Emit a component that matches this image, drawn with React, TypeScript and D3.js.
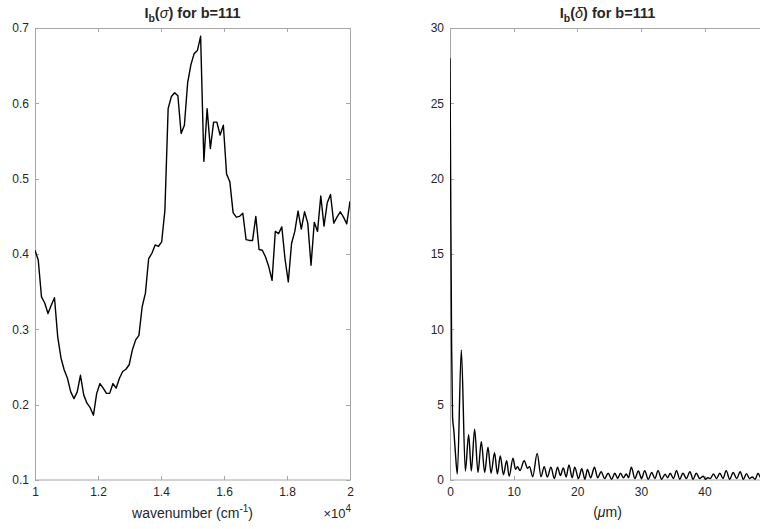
import React, { useRef, useEffect } from 'react';
import * as d3 from 'd3';

// spectrum I_b(sigma), evenly sampled from 1e4 to 2e4 cm^-1
const sigmaStart = 10000;
const sigmaEnd = 20000;
const sigmaIntensity = [
  0.405, 0.392, 0.343, 0.335, 0.321, 0.332, 0.342, 0.29, 0.262, 0.246,
  0.235, 0.217, 0.208, 0.217, 0.239, 0.213, 0.202, 0.196, 0.186, 0.215,
  0.228, 0.222, 0.215, 0.215, 0.228, 0.222, 0.235, 0.244, 0.247, 0.253,
  0.273, 0.286, 0.292, 0.33, 0.348, 0.394, 0.401, 0.412, 0.41, 0.416,
  0.458, 0.593, 0.609, 0.614, 0.61, 0.56, 0.571, 0.627, 0.651, 0.666,
  0.67, 0.689, 0.523, 0.593, 0.54, 0.575, 0.575, 0.558, 0.571, 0.506,
  0.496, 0.455, 0.449, 0.45, 0.454, 0.419, 0.418, 0.418, 0.45, 0.406,
  0.405, 0.396, 0.383, 0.365, 0.43, 0.427, 0.436, 0.393, 0.363, 0.414,
  0.43, 0.457, 0.433, 0.456, 0.441, 0.385, 0.442, 0.43, 0.477, 0.437,
  0.468, 0.479, 0.441, 0.449, 0.456, 0.449, 0.44, 0.47,
];
const sigmaXTicks = [10000, 12000, 14000, 16000, 18000, 20000];
const sigmaYTicks = [0.1, 0.2, 0.3, 0.4, 0.5, 0.6, 0.7];

// interferogram I_b(delta): extrema
const deltaUm = [
  0, 0.1, 0.25, 0.4, 0.6, 0.85, 1.15, 1.78, 2.41, 2.93,
  3.35, 3.87, 4.4, 4.92, 5.45, 5.97, 6.45, 7.0, 7.45, 7.9,
  8.4, 8.9, 9.3, 9.9, 10.3, 10.6, 11.0, 11.65, 12.2, 12.5,
  13.0, 13.7, 14.3, 14.8, 15.3, 15.86, 16.4, 16.9, 17.35, 17.8,
  18.25, 18.7, 19.2, 19.6, 20.2, 20.7, 21.2, 21.6, 22.1, 22.7,
  23.2, 23.75, 24.3, 24.85, 25.4, 25.9, 26.35, 26.8, 27.25, 27.7,
  28.05, 28.5, 29.05, 29.6, 30.1, 30.6, 31.15, 31.7, 32.2, 32.7,
  33.25, 33.8, 34.2, 34.6, 35.1, 35.6, 36.1, 36.6, 37.15, 37.7,
  38.2, 38.7, 39.25, 39.8, 40.15, 40.5, 40.9, 41.4, 41.9, 42.4,
  42.9, 43.4, 43.95, 44.5, 45.05, 45.6, 46.1, 46.6, 47.05, 47.5,
  47.95, 48.4, 48.9, 49.4,
];
const deltaIntensity = [
  28.0, 20, 9, 4.2, 3.3, 1.8, 0.4, 8.63, 0.6, 3.0,
  0.6, 3.38, 0.5, 2.55, 0.5, 2.17, 0.45, 1.81, 0.4, 1.59,
  0.35, 1.28, 0.25, 1.44, 0.71, 0.89, 0.62, 1.28, 0.78, 0.89,
  0.22, 1.77, 0.22, 0.89, 0.2, 0.85, 0.1, 0.85, 0.3, 0.8,
  0.2, 1.0, 0.15, 0.85, 0.1, 0.75, 0.05, 0.7, 0.15, 0.85,
  0.15, 0.55, 0.1, 0.45, 0.05, 0.45, 0.1, 0.45, 0.15, 0.4,
  0.15, 0.85, 0.1, 0.6, 0.1, 0.62, 0.05, 0.5, 0.1, 0.62,
  0.05, 0.38, 0.15, 0.45, 0.1, 0.62, 0.05, 0.45, 0.1, 0.55,
  0.05, 0.45, 0.1, 0.25, 0.05, 0.15, 0.1, 0.4, 0.1, 0.45,
  0.1, 0.62, 0.05, 0.5, 0.1, 0.55, 0.05, 0.42, 0.1, 0.2,
  0.05, 0.45, 0.1, 0.35,
];
// the 50 tick falls just past the right edge of the figure
const deltaXTicks = [0, 10, 20, 30, 40];
const deltaYTicks = [0, 5, 10, 15, 20, 25, 30];

const FONT = "'Liberation Sans', Helvetica, Arial, sans-serif";
const AXIS = '#a6a6a6';
const TEXT = '#262626';
const plotTop = 28;
const plotH = 452;
const plotW = 315;

const drawPanel = (svg, id, x0, xScale, yScale, xTicks, yTicks, xFmt, yFmt, pts, curve) => {
  const g = svg.append('g').attr('transform', `translate(${x0},${plotTop})`);

  g.append('clipPath').attr('id', id)
    .append('rect').attr('width', plotW).attr('height', plotH);

  const style = (sel) => {
    sel.select('.domain').remove();
    sel.selectAll('line').attr('stroke', AXIS).attr('shape-rendering', 'crispEdges');
    sel.selectAll('text').attr('fill', TEXT).attr('font-size', 12).attr('font-family', FONT);
  };

  g.append('g').attr('transform', `translate(0,${plotH})`)
    .call(d3.axisBottom(xScale).tickValues(xTicks).tickSizeInner(-4).tickSizeOuter(0).tickPadding(7).tickFormat(xFmt))
    .call(style);
  g.append('g')
    .call(d3.axisTop(xScale).tickValues(xTicks).tickSizeInner(-4).tickSizeOuter(0).tickFormat(() => ''))
    .call(style);
  g.append('g')
    .call(d3.axisLeft(yScale).tickValues(yTicks).tickSizeInner(-4).tickSizeOuter(0).tickPadding(6).tickFormat(yFmt))
    .call(style);
  g.append('g').attr('transform', `translate(${plotW},0)`)
    .call(d3.axisRight(yScale).tickValues(yTicks).tickSizeInner(-4).tickSizeOuter(0).tickFormat(() => ''))
    .call(style);

  g.append('rect')
    .attr('x', 0.5).attr('y', 0.5)
    .attr('width', plotW).attr('height', plotH - 0.5)
    .attr('fill', 'none').attr('stroke', AXIS);

  const line = d3.line()
    .x(d => xScale(d[0]))
    .y(d => yScale(d[1]))
    .curve(curve);

  g.append('path')
    .datum(pts)
    .attr('clip-path', `url(#${id})`)
    .attr('d', line)
    .attr('fill', 'none')
    .attr('stroke', '#000')
    .attr('stroke-width', 1.4)
    .attr('stroke-linejoin', 'round');
};

const Chart = () => {
  const svgRef = useRef(null);

  useEffect(() => {
    const svg = d3.select(svgRef.current);
    svg.selectAll('*').remove();

    // left: I_b(sigma)
    const xs = d3.scaleLinear().domain([sigmaStart, sigmaEnd]).range([0, plotW]);
    const ys = d3.scaleLinear().domain([0.1, 0.7]).range([plotH, 0]);
    const step = (sigmaEnd - sigmaStart) / (sigmaIntensity.length - 1);
    const sigmaPts = sigmaIntensity.map((v, i) => [sigmaStart + i * step, v]);
    drawPanel(svg, 'clipL', 35, xs, ys, sigmaXTicks, sigmaYTicks,
      d => d3.format('~g')(d / 10000), d => d.toFixed(1), sigmaPts, d3.curveLinear);

    // right: I_b(delta)
    const xd = d3.scaleLinear().domain([0, 49.5]).range([0, plotW]);
    const yd = d3.scaleLinear().domain([0, 30]).range([plotH, 0]);
    const deltaPts = deltaUm.map((d, i) => [d, deltaIntensity[i]]);
    drawPanel(svg, 'clipR', 450, xd, yd, deltaXTicks, deltaYTicks,
      d => String(d), d => String(d), deltaPts, d3.curveMonotoneX);
  }, []);

  const txt = { fontFamily: FONT, fill: TEXT };

  return (
    <svg width={760} height={529} style={{ position: 'absolute', left: 0, top: 0, background: '#fff' }}>
      <g ref={svgRef} />
      <text x={192.5} y={18} textAnchor="middle" fontSize={14.5} fontWeight="bold" style={txt}>
        I<tspan fontSize={10.5} dy={4}>b</tspan><tspan dy={-4}>(</tspan><tspan fontStyle="italic" fontWeight="normal">σ</tspan>) for b=111
      </text>
      <text x={607.5} y={18} textAnchor="middle" fontSize={14.5} fontWeight="bold" style={txt}>
        I<tspan fontSize={10.5} dy={4}>b</tspan><tspan dy={-4}>(</tspan><tspan fontStyle="italic" fontWeight="normal">δ</tspan>) for b=111
      </text>
      <text x={192.5} y={518} textAnchor="middle" fontSize={14} style={txt}>
        wavenumber (cm<tspan fontSize={10} dy={-6}>-1</tspan><tspan dy={6}>)</tspan>
      </text>
      <text x={351} y={518} textAnchor="end" fontSize={13} style={txt}>
        ×10<tspan fontSize={10} dy={-6}>4</tspan>
      </text>
      <text x={607.5} y={517} textAnchor="middle" fontSize={14} style={txt}>
        (<tspan fontStyle="italic">μ</tspan>m)
      </text>
    </svg>
  );
};

export default function App() {
  return <Chart />;
}
